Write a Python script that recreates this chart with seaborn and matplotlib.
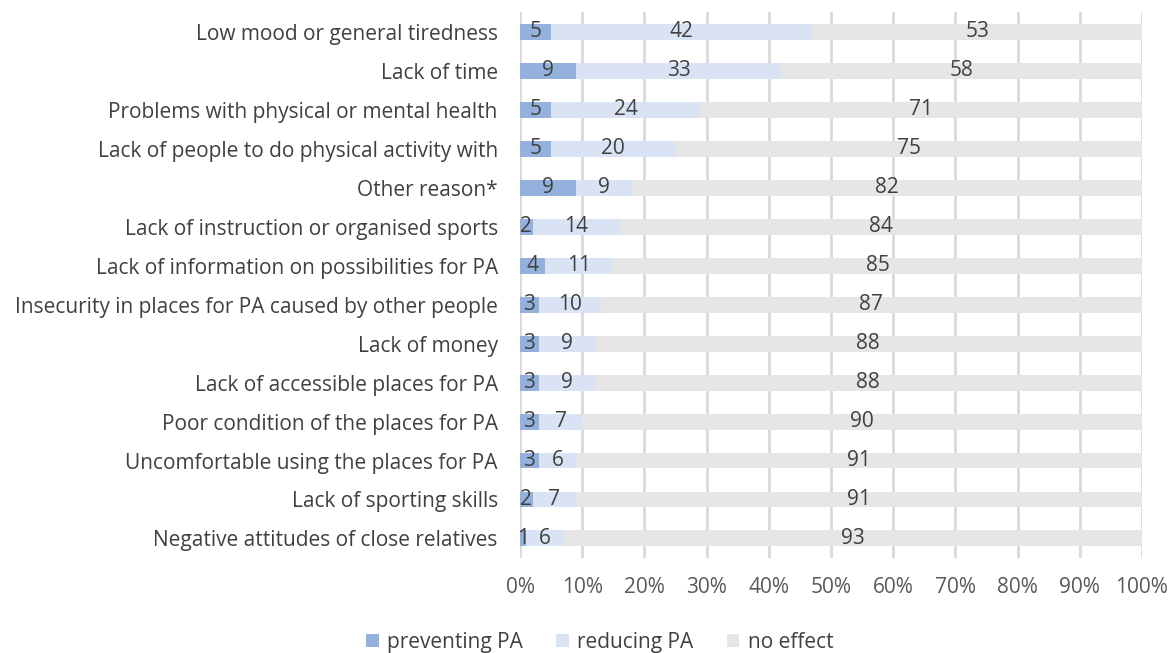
import matplotlib
matplotlib.use("Agg")
from matplotlib import pyplot as plt
from matplotlib.patches import Patch
import seaborn as sns
import numpy as np
import pandas as pd

# Data

categories = [
    "Low mood or general tiredness",
    "Lack of time",
    "Problems with physical or mental health",
    "Lack of people to do physical activity with",
    "Other reason*",
    "Lack of instruction or organised sports",
    "Lack of information on possibilities for PA",
    "Insecurity in places for PA caused by other people",
    "Lack of money",
    "Lack of accessible places for PA",
    "Poor condition of the places for PA",
    "Uncomfortable using the places for PA",
    "Lack of sporting skills",
    "Negative attitudes of close relatives",
]
preventing = [5, 9, 5, 5, 9, 2, 4, 3, 3, 3, 3, 3, 2, 1]
reducing = [42, 33, 24, 20, 9, 14, 11, 10, 9, 9, 7, 6, 7, 6]
no_effect = [53, 58, 71, 75, 82, 84, 85, 87, 88, 88, 90, 91, 91, 93]

series_names = ["preventing PA", "reducing PA", "no effect"]
colors = ["#94b0dd", "#dae3f3", "#e7e6e6"]

df = pd.DataFrame({"cat": categories, "p": preventing, "r": reducing, "n": no_effect})
df["c1"] = df.p
df["c2"] = df.p + df.r
df["c3"] = df.p + df.r + df.n

plt.rcParams["font.family"] = ["Open Sans", "DejaVu Sans"]
text_col = "#404040"
fs = 15

fig = plt.figure(figsize=(11.74, 6.53), dpi=100)
ax = fig.add_axes([0.443, 0.1455, 0.5297, 0.836])

# stacked: draw totals first, then cumulative sums on top
for col, c in zip(["c3", "c2", "c1"], colors[::-1]):
    sns.barplot(data=df, x=col, y="cat", color=c, width=0.41, ax=ax,
                orient="h", saturation=1, linewidth=0)

# segment labels
for i, row in df.iterrows():
    starts = [0, row.c1, row.c2]
    vals = [row.p, row.r, row.n]
    for s, v in zip(starts, vals):
        ax.text(s + v / 2, i, str(v), ha="center", va="center",
                fontsize=fs, color=text_col)

ax.set_xlim(0, 100)
ax.set_xticks(np.arange(0, 101, 10))
ax.set_xticklabels([f"{t}%" for t in range(0, 101, 10)])
ax.set_xlabel("")
ax.set_ylabel("")
ax.grid(axis="x", color="#d9d9d9", linewidth=2)
ax.set_axisbelow(True)
for sp in ax.spines.values():
    sp.set_visible(False)
ax.tick_params(axis="both", length=0, labelsize=fs, colors="#595959")
ax.tick_params(axis="y", labelcolor=text_col, pad=16)
ax.tick_params(axis="x", pad=14)

handles = [Patch(facecolor=c, edgecolor="none") for c in colors]
fig.legend(handles, series_names, loc="center", bbox_to_anchor=(0.511, 0.016),
           ncol=3, frameon=False, fontsize=fs, handlelength=0.6,
           handleheight=0.6, handletextpad=0.4, columnspacing=1.6,
           labelcolor=text_col)

fig.savefig("out.png", dpi=100)
